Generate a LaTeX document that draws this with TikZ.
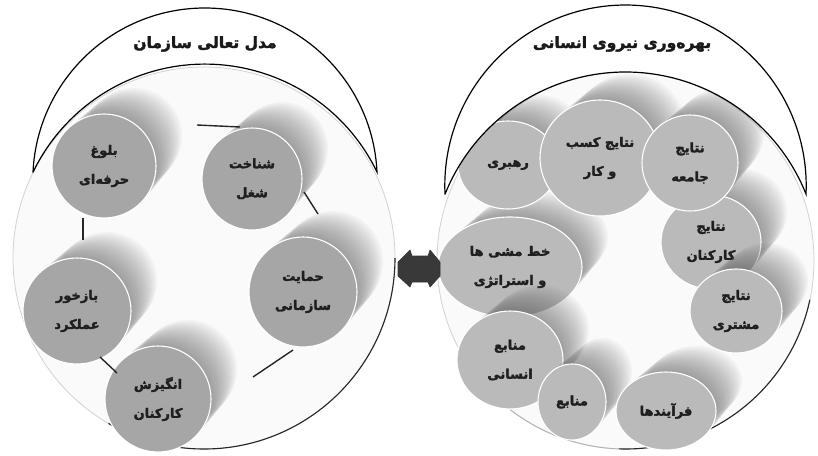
\documentclass[tikz,border=0pt]{standalone}
\usepackage{fontspec}
\usetikzlibrary{shapes.geometric}
\newfontfamily\arabicfont[Script=Arabic,FakeBold=2.2]{DejaVu Sans}
\TeXXeTstate=1
\newcommand\fa[1]{\beginR#1\endR}
\definecolor{leftfill}{RGB}{166,166,166}
\definecolor{rightfill}{RGB}{186,186,186}
\definecolor{shadowc}{RGB}{85,85,85}
\tikzset{
  front/.style={ellipse, inner sep=0pt, draw=white, line width=1.1pt, align=center,
    text=black!88, font=\arabicfont\bfseries\fontsize{13}{29}\selectfont},
  conn/.style={draw=black!85, line width=1.4pt},
  crescent/.style={draw=black, line width=1.2pt, fill=white},
  bigc/.style={circle, inner sep=0pt, draw=gray!35, line width=0.8pt, fill=gray!4},
  rimdark/.style={draw=gray!30!black, line width=1.1pt},
  titletext/.style={font=\arabicfont\bfseries\fontsize{15.5}{18}\selectfont, text=black!90},
  arrowshape/.style={draw=black!80, fill=gray!45!black, line width=0.6pt, line join=round},
}
% #1 name, #2 x, #3 y, #4 rx, #5 ry, #6 fill, #7 text
\newcommand\cylnode{}
\renewcommand\cylnode[7]{%
  \foreach \k in {1,...,16}{%
    \fill[shadowc, opacity=0.042] ({#2+30*\k/16},{#3-30*\k/16}) ellipse [x radius=#4-\k*0.25, y radius=#5-\k*0.25];
  }
  \node[front, fill=#6, minimum width=2*#4pt, minimum height=2*#5pt] (#1) at (#2,#3) {#7};
}
\begin{document}
\begin{tikzpicture}[x=1pt,y=-1pt]
\useasboundingbox (0,0) rectangle (818,455);
\fill[white] (0,0) rectangle (818,455);

% big circles
\node[bigc, minimum size=382pt] (bigL) at (204,258) {};
\node[bigc, minimum size=377pt] (bigR) at (625.5,260.5) {};
\draw[rimdark] ([shift={(0:191)}]bigL.center) arc[start angle=0, end angle=120, radius=191];
\draw[rimdark] ([shift={(12:188.5)}]bigR.center) arc[start angle=12, end angle=92, radius=188.5];
\draw[draw=gray!60, line width=0.9pt] ([shift={(92:188.5)}]bigR.center) arc[start angle=92, end angle=128, radius=188.5];

% left cylinders
\cylnode{lA}{104}{166}{52}{52}{leftfill}{\fa{بلوغ}\\\fa{حرفه‌ای}}
\cylnode{lB}{252}{179}{50}{51}{leftfill}{\fa{شناخت}\\\fa{شغل}}
\cylnode{lC}{303}{292}{54}{55}{leftfill}{\fa{حمایت}\\\fa{سازمانی}}
\cylnode{lD}{77}{311}{54}{53}{leftfill}{\fa{بازخور}\\\fa{عملکرد}}
\cylnode{lE}{158}{399}{53}{53}{leftfill}{\fa{انگیزش}\\\fa{کارکنان}}

% left connectors
\coordinate (cAa) at (197,125); \coordinate (cAb) at (240,127);
\coordinate (cBa) at (304,192); \coordinate (cBb) at (318,214);
\coordinate (cCa) at (83,218);  \coordinate (cCb) at (83,240);
\coordinate (cDa) at (100,357); \coordinate (cDb) at (117,373);
\coordinate (cEa) at (293,350); \coordinate (cEb) at (253,377);
\draw[conn] (cAa) -- (cAb);
\draw[conn] (cBa) -- (cBb);
\draw[conn] (cCa) -- (cCb);
\draw[conn] (cDa) -- (cDb);
\draw[conn] (cEa) -- (cEb);

% right cylinders
\cylnode{rI}{510}{267}{72}{50}{rightfill}{\fa{خط مشی ها}\\\fa{و استراتژی}}
\cylnode{rA}{508}{165}{50}{44}{rightfill}{\fa{رهبری}}
\cylnode{rB}{600}{158}{60}{58}{rightfill}{\fa{نتایج کسب}\\\fa{و کار}}
\cylnode{rD}{711}{242}{50}{47}{rightfill}{\fa{نتایج}\\\fa{کارکنان}}
\cylnode{rC}{690}{163}{48}{48}{rightfill}{\fa{نتایج}\\\fa{جامعه}}
\cylnode{rE}{736}{311}{46}{42}{rightfill}{\fa{نتایج}\\\fa{مشتری}}
\cylnode{rH}{510}{360}{53}{49}{rightfill}{\fa{منابع}\\\fa{انسانی}}
\cylnode{rG}{572}{402}{34}{38}{rightfill}{\fa{منابع}}
\cylnode{rF}{666}{411}{50}{39}{rightfill}{\fa{فرآیندها}}

% crescents
\draw[crescent] (33,172) arc[start angle=-177.27, end angle=-2.73, radius=172.2]
  arc[start angle=-25.8, end angle=-154.2, radius=191] -- cycle;
\draw[crescent] (445,194) arc[start angle=-182.63, end angle=2.63, radius=180.7]
  arc[start angle=-21.9, end angle=-158.1, radius=194.5] -- cycle;
\node[titletext] (tL) at (205,44) {\fa{مدل تعالی سازمان}};
\node[titletext] (tR) at (622,44) {\fa{بهره‌وری نیروی انسانی}};

% double arrow
\draw[arrowshape] (410,250) -- (412,256) -- (428,256) -- (430,250) -- (440,262) -- (440,276)
  -- (430,287) -- (428,282) -- (412,282) -- (410,287) -- (398,276) -- (398,262) -- cycle;
\end{tikzpicture}
\end{document}
